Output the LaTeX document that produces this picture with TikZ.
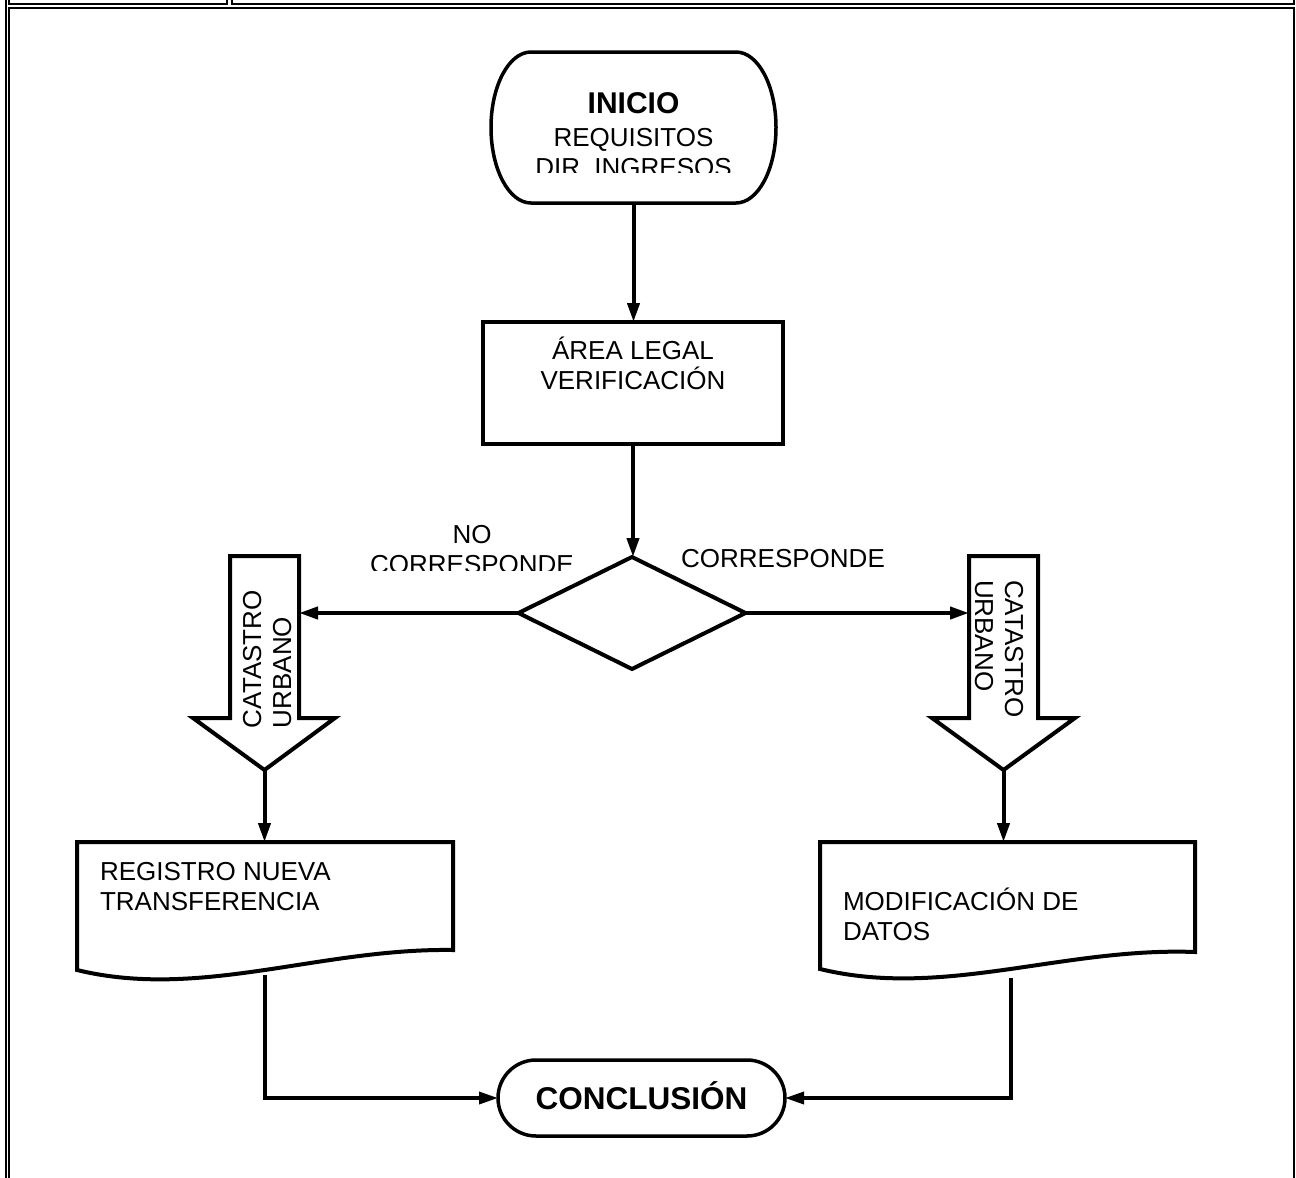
\documentclass[tikz,border=0pt]{standalone}
\usepackage{fontspec}
\setmainfont{Liberation Sans}
\usetikzlibrary{arrows.meta,shapes.geometric}

\begin{document}
\begin{tikzpicture}[x=1pt,y=-1pt,
  every node/.style={inner sep=0pt, outer sep=0pt},
  txt/.style={font=\fontsize{26}{30}\selectfont},
  boldtxt/.style={font=\fontsize{30}{34}\selectfont\bfseries},
  outline/.style={line width=4pt, line join=miter},
  term/.style={line width=3.5pt},
  conn/.style={line width=4pt},
  thinconn/.style={line width=3.5pt},
  arr/.style={-{Triangle[length=19pt,width=12pt]}},
  frameline/.style={line width=2pt}]
\useasboundingbox (0,0) rectangle (1296,1178);

% page frame with the table row above
\draw[frameline] (6,0) -- (6,1178);
\draw[frameline] (9,0) -- (9,4) -- (227,4) -- (227,0);
\draw[frameline] (232,0) -- (232,4) -- (1294,4) -- (1294,0);
\draw[frameline] (9,1178) -- (9,8) -- (1294,8) -- (1294,1178);

% start terminator
\node[minimum width=285pt, minimum height=151pt] (start) at (633.5,127.5) {};
\draw[term] (531,52) -- (736,52)
  arc[start angle=-90, end angle=90, x radius=40, y radius=75.5]
  -- (531,203)
  arc[start angle=90, end angle=270, x radius=40, y radius=75.5] -- cycle;
\begin{scope}
  \clip (495,55) rectangle (775,172.5);
  \node[boldtxt, anchor=base] (t1) at (633.5,113) {INICIO};
  \node[txt, anchor=base] (t2) at (633.5,146) {REQUISITOS};
  \node[txt, anchor=base] (t3) at (633.5,176) {DIR. INGRESOS};
\end{scope}

% legal area (base anchor of a two-line node sits on its last line)
\node[draw, outline, minimum width=300pt, minimum height=122pt] (verif) at (633,383) {};
\node[txt, align=center, anchor=base] (verift) at (633,389) {ÁREA LEGAL\\VERIFICACIÓN};

% decision
\node[draw, outline, diamond, minimum width=227pt, minimum height=112pt] (dec) at (632,613) {};
\begin{scope}
  \clip (300,500) rectangle (600,570.5);
  \node[txt, align=center, anchor=base] (nolab) at (472,573) {NO\\CORRESPONDE};
\end{scope}
\node[txt, anchor=base] (silab) at (783,567) {CORRESPONDE};

% block arrows
\node[minimum width=69pt, minimum height=162pt] (catL) at (264.5,637) {};
\draw[outline] (230,556) -- (299,556) -- (299,718) -- (335,718) -- (264.5,770)
  -- (193,718) -- (230,718) -- cycle;
\coordinate (catLtip) at (264.5,770);
\node[txt, rotate=90, anchor=base west, align=left] (catLt) at (291,728) {CATASTRO\\URBANO};

\node[minimum width=69pt, minimum height=162pt] (catR) at (1003.5,637) {};
\draw[outline] (969,556) -- (1038,556) -- (1038,718) -- (1075,718) -- (1003.5,770)
  -- (932,718) -- (969,718) -- cycle;
\coordinate (catRtip) at (1003.5,770);
\node[txt, rotate=-90, anchor=base west, align=left] (catRt) at (975,580) {CATASTRO\\URBANO};

% documents
\node[minimum width=376pt, minimum height=108pt] (reg) at (265,896) {};
\draw[outline] (77,842) -- (453,842) -- (453,950)
  .. controls (320,948) and (200,1000) .. (77,970) -- cycle;
\node[txt, anchor=base west, align=left] (regt) at (100,910) {REGISTRO NUEVA\\TRANSFERENCIA};
\coordinate (regout) at (265,975);

\node[minimum width=375pt, minimum height=110pt] (mod) at (1007.5,897) {};
\draw[outline] (820,842) -- (1195,842) -- (1195,952)
  .. controls (1063,947) and (943,999) .. (820,969) -- cycle;
\node[txt, anchor=base west, align=left] (modt) at (843,940) {MODIFICACIÓN DE\\DATOS};
\coordinate (modout) at (1011,978);

% end terminator
\node[draw, term, rounded corners=38pt, minimum width=287pt, minimum height=76pt,
  font=\fontsize{31.5}{36}\selectfont\bfseries, text height=22.5pt, text depth=0pt]
  (fin) at (641.5,1098) {CONCLUSIÓN};

% connectors
\draw[conn, arr] (start.south) -- (start.south |- verif.north);
\draw[conn, arr] (verif.south) -- (verif.south |- dec.north);
\draw[conn, arr] (dec.west) -- (dec.west -| catL.east);
\draw[conn, arr] (dec.east) -- (dec.east -| catR.west);
\draw[conn, arr] (catLtip) -- (catLtip |- reg.north);
\draw[conn, arr] (catRtip) -- (catRtip |- mod.north);
\draw[thinconn, arr] (regout) |- (fin.west);
\draw[thinconn, arr] (modout) |- (fin.east);
\end{tikzpicture}
\end{document}
